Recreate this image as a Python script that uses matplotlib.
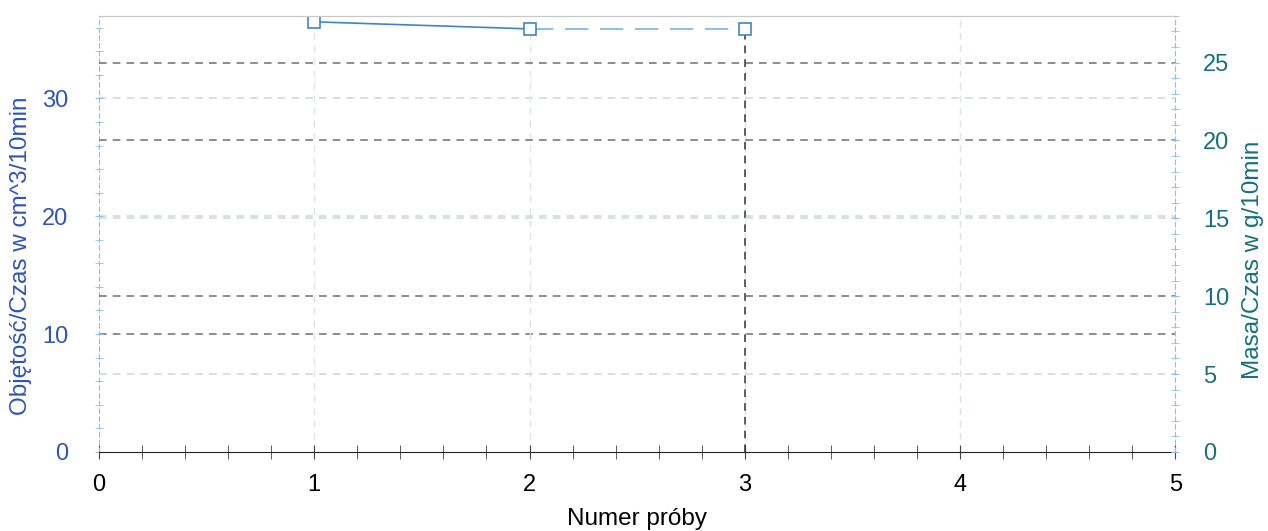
import numpy as np
import matplotlib.pyplot as plt
from matplotlib.ticker import MultipleLocator

# data
samples = [1, 2, 3]
flow_volume = [36.5, 35.9, 35.9]   # cm^3/10min (left axis)
vol_ticks = [0, 10, 20, 30]
mass_ticks = [0, 5, 10, 15, 20, 25]
x_ticks = [0, 1, 2, 3, 4, 5]

blue = "#2f55b5"
teal = "#16707f"
line_blue = "#3d86c6"
light_blue = "#8cc0e6"
grid_light = "#cfd6de"
grid_dark = "#6f6f6f"

plt.rcParams['font.family'] = ['Liberation Sans', 'DejaVu Sans']

fig = plt.figure(figsize=(12.68, 5.31), dpi=100)
ax = fig.add_axes([0.078, 0.149, 0.849, 0.821])
ax2 = ax.twinx()

ax.set_xlim(0, 5)
ax.set_ylim(0, 37)
ax2.set_ylim(0, 28)

# grid lines from both axes
for v in vol_ticks[1:]:
    ax.axhline(v, color=grid_light if v != 10 else grid_dark, lw=1.1,
               ls=(0, (5, 4)), zorder=0)
for v in mass_ticks[1:]:
    ax2.axhline(v, color=grid_dark if v in (10, 20, 25) else grid_light,
                lw=1.1, ls=(0, (5, 4)), zorder=0)
for xv in x_ticks[1:-1]:
    ax.axvline(xv, color="#dde3ea", lw=1.0, ls=(0, (5, 4)), zorder=0)

# data
ax.plot(samples[:2], flow_volume[:2], color=line_blue, lw=1.2, zorder=3)
ax.plot(samples[1:], flow_volume[1:], color=light_blue, lw=1.4,
        ls=(0, (12, 6)), zorder=3)
ax.plot(samples, flow_volume, ls='none', marker='s', ms=9, mfc='white',
        mec=line_blue, mew=1.2, zorder=4)
ax.plot([samples[-1], samples[-1]], [0, flow_volume[-1]], color="#333333",
        lw=1.1, ls=(0, (5, 4)), zorder=2)

# spines
ax.spines['top'].set_color("#c8c8c8")
ax2.spines['top'].set_color("#c8c8c8")
ax.spines['left'].set_color(light_blue)
ax.spines['left'].set_linestyle((0, (4, 3)))
ax2.spines['right'].set_color(light_blue)
ax2.spines['right'].set_linestyle((0, (4, 3)))
ax2.spines['left'].set_visible(False)
ax2.spines['bottom'].set_visible(False)
ax.spines['right'].set_visible(False)
ax.spines['bottom'].set_color("#222222")

# ticks
ax.set_xticks(x_ticks)
ax.xaxis.set_minor_locator(MultipleLocator(0.2))
ax.tick_params(axis='x', which='both', direction='inout', length=10,
               colors="#444444", labelcolor='black', labelsize=17, pad=11)
ax.set_yticks(vol_ticks)
ax.yaxis.set_minor_locator(MultipleLocator(2))
ax.tick_params(axis='y', which='both', direction='inout', length=6,
               colors=light_blue, labelcolor=blue, labelsize=17, pad=19)
ax2.set_yticks(mass_ticks)
ax2.yaxis.set_minor_locator(MultipleLocator(1))
ax2.tick_params(axis='y', which='both', direction='inout', length=6,
                colors=light_blue, labelcolor=teal, labelsize=17, pad=17)

ax.set_xlabel("Numer próby", fontsize=17.5)
ax.set_ylabel("Objętość/Czas w cm^3/10min", fontsize=17.5, color=blue)
ax2.set_ylabel("Masa/Czas w g/10min", fontsize=17.5, color=teal)
ax.xaxis.set_label_coords(0.5, -0.128)
ax.yaxis.set_label_coords(-0.062, 0.45)
ax2.yaxis.set_label_coords(1.062, 0.44)

fig.savefig("out.png", dpi=100)
